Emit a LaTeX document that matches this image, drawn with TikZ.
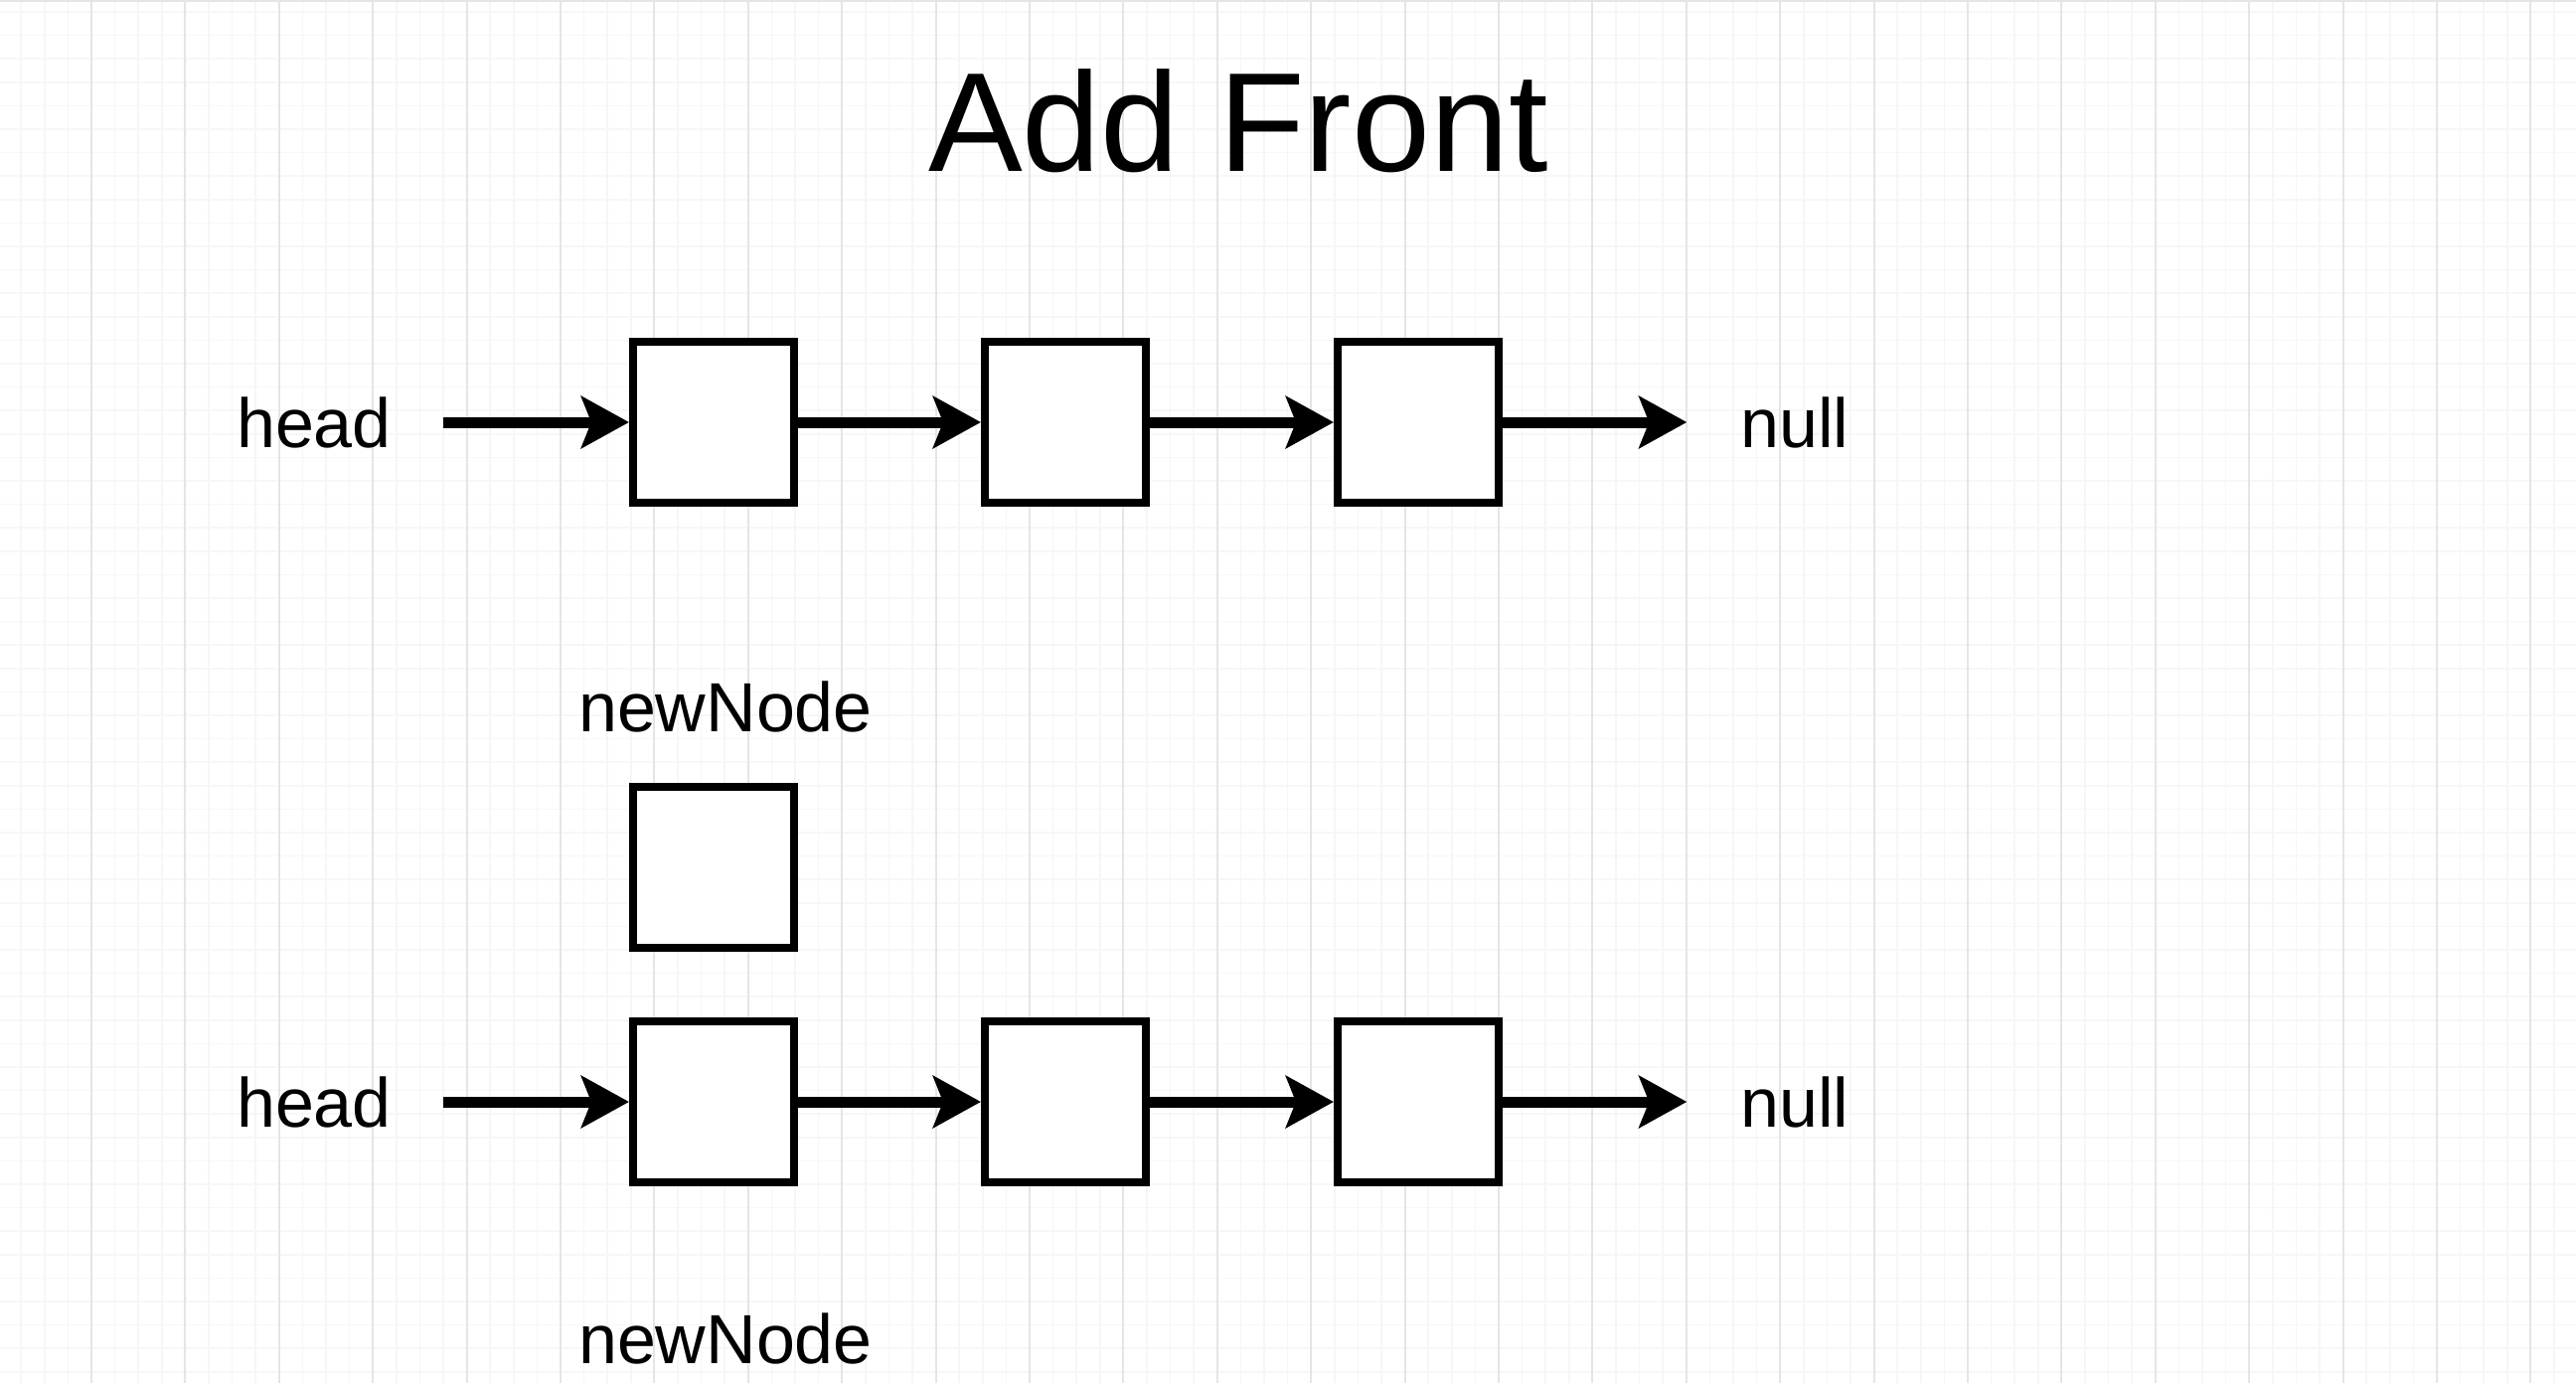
\documentclass[tikz,border=0pt]{standalone}
\usepackage{fontspec}
\setmainfont{Liberation Sans}
\usetikzlibrary{arrows.meta}
\begin{document}
\begin{tikzpicture}[x=1pt,y=-1pt,
  cell/.style={draw=black, line width=8pt, fill=white, minimum width=162pt, minimum height=162pt, inner sep=0pt},
  lbl/.style={font=\fontsize{70}{84}\selectfont, inner sep=0pt},
  arr/.style={line width=11pt, -{Stealth[length=48pt,width=52pt,inset=10pt]}}
]
\fill[white] (0,0) rectangle (2592,1392);
\useasboundingbox (0,0) rectangle (2592,1392);
% grid
\foreach \k in {0,...,58} { \draw[gray!6, line width=1.5pt] (0,{12+23.6*\k}) -- (2592,{12+23.6*\k}); }
\foreach \i in {0,...,109} { \draw[gray!7, line width=1.5pt] ({21.2+23.6*\i},0) -- ({21.2+23.6*\i},1392); }
\foreach \k in {0,...,26} { \draw[gray!20, line width=2pt] ({92+94.4*\k},0) -- ({92+94.4*\k},1392); }
\draw[gray!20, line width=2pt] (0,1) -- (2592,1);
% title
\node[font=\fontsize{142}{170}\selectfont, inner sep=0pt, anchor=base] (title) at (1246,172) {Add Front};
% row 1
\node[lbl] (h1) at (316,425) {head};
\node[cell] (a1) at (718,425) {};
\node[cell] (a2) at (1072,425) {};
\node[cell] (a3) at (1427,425) {};
\node[lbl] (n1) at (1806,425) {null};
\draw[arr, shorten <=52pt] (h1.east) -- (a1.west);
\draw[arr] (a1) -- (a2);
\draw[arr] (a2) -- (a3);
\draw[arr, shorten >=54pt] (a3.east) -- (n1.west);
% new node
\node[lbl] (nl1) at (730,711) {newNode};
\node[cell] (nn) at (718,873) {};
% row 2
\node[lbl] (h2) at (316,1109) {head};
\node[cell] (b1) at (718,1109) {};
\node[cell] (b2) at (1072,1109) {};
\node[cell] (b3) at (1427,1109) {};
\node[lbl] (n2) at (1806,1109) {null};
\draw[arr, shorten <=52pt] (h2.east) -- (b1.west);
\draw[arr] (b1) -- (b2);
\draw[arr] (b2) -- (b3);
\draw[arr, shorten >=54pt] (b3.east) -- (n2.west);
\node[lbl] (nl2) at (730,1347) {newNode};
\end{tikzpicture}
\end{document}
